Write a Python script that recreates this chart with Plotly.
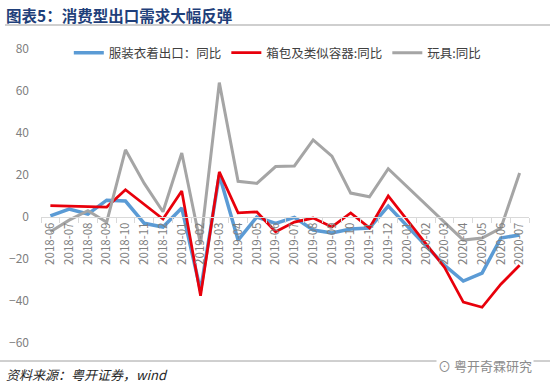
import plotly.graph_objects as go

months = ["2018-06", "2018-07", "2018-08", "2018-09", "2018-10", "2018-11", "2018-12",
          "2019-01", "2019-02", "2019-03", "2019-04", "2019-05", "2019-06", "2019-07",
          "2019-08", "2019-09", "2019-10", "2019-11", "2019-12", "2020-01", "2020-02",
          "2020-03", "2020-04", "2020-05", "2020-06", "2020-07"]

clothing = [0.5, 3.8, 1.4, 8.0, 7.6, -3.0, -4.8, 4.3, -35.0, 20.0, -11.0, 0.0, -3.0, -0.2,
            -6.2, -7.6, -5.7, -5.2, 5.2, None, None, -23.0, -30.5, -26.7, -10.0, -8.6]
bags = [5.4, 5.2, 4.8, 4.7, 13.0, 6.0, -1.0, 12.4, -37.5, 21.5, 2.0, 2.4, -7.0, -2.4,
        -0.5, -4.7, 1.9, -5.2, 10.0, None, None, -24.0, -40.5, -43.0, -32.0, -23.0]
toys = [-7.0, -1.5, 3.0, -2.5, 32.0, 16.0, 2.5, 30.5, -13.0, 64.0, 17.0, 16.0, 24.0, 24.3,
        36.7, 29.0, 11.4, 9.6, 23.0, None, None, -2.5, -11.0, -10.0, -5.3, 21.0]

names = ["服装衣着出口：同比", "箱包及类似容器:同比", "玩具:同比"]
y_ticks = [-60, -40, -20, 0, 20, 40, 60, 80]

fig = go.Figure()
fig.add_trace(go.Scatter(x=months, y=clothing, name=names[0], mode="lines",
                         line=dict(color="#5B9BD5", width=3.5), connectgaps=True))
fig.add_trace(go.Scatter(x=months, y=bags, name=names[1], mode="lines",
                         line=dict(color="#E8000B", width=2.75), connectgaps=True))
fig.add_trace(go.Scatter(x=months, y=toys, name=names[2], mode="lines",
                         line=dict(color="#A5A5A5", width=3), connectgaps=True))

font_cjk = "Noto Sans CJK SC, Microsoft YaHei, sans-serif"
PW, PH = 488, 294

fig.update_layout(
    width=550, height=387,
    margin=dict(l=41, r=21, t=49, b=44, autoexpand=False),
    paper_bgcolor="white", plot_bgcolor="white",
    font=dict(family=font_cjk, color="#595959"),
    showlegend=True,
    legend=dict(orientation="h", x=0.057, y=1 - 4 / PH, xanchor="left", yanchor="middle",
                font=dict(size=12.5, color="#404040", family=font_cjk),
                bgcolor="rgba(0,0,0,0)", itemwidth=30, tracegroupgap=0),
    xaxis=dict(type="category", categoryorder="array", categoryarray=months,
               anchor="free", position=60 / 140,
               showline=True, linecolor="#D9D9D9", linewidth=1,
               ticks="outside", tickson="boundaries", ticklen=5, tickcolor="#D9D9D9",
               tickangle=-90, tickfont=dict(size=11.5, color="#7F7F7F", family=font_cjk),
               showgrid=False, zeroline=False, range=[-0.5, 25.5]),
    yaxis=dict(range=[-60, 80], tickvals=y_ticks, showgrid=False, zeroline=False,
               showline=False, ticks="", ticklabelstandoff=11,
               tickfont=dict(size=12, color="#7F7F7F", family=font_cjk)),
)

# Title and decorations
fig.add_annotation(text="<b>图表5：消费型出口需求大幅反弹</b>", xref="paper", yref="paper",
                   x=-37 / PW, y=1 + 34 / PH, xanchor="left", yanchor="middle",
                   showarrow=False, font=dict(size=15.5, color="#1F3F7A", family=font_cjk))
fig.add_shape(type="line", xref="paper", yref="paper",
              x0=-36 / PW, x1=1 + 21 / PW, y0=1 + 24 / PH, y1=1 + 24 / PH,
              line=dict(color="#A0A0A0", width=1.2))
fig.add_shape(type="line", xref="paper", yref="paper",
              x0=-41 / PW, x1=1 + 21 / PW, y0=-18 / PH, y1=-18 / PH,
              line=dict(color="#A0A0A0", width=1))
fig.add_annotation(text="<i>资料来源：粤开证券，wind</i>", xref="paper", yref="paper",
                   x=-37 / PW, y=-32 / PH, xanchor="left", yanchor="middle",
                   showarrow=False, font=dict(size=13, color="#262626", family=font_cjk))
fig.add_annotation(text="⊙ 粤开奇霖研究", xref="paper", yref="paper",
                   x=1 + 5 / PW, y=-22 / PH, xanchor="right", yanchor="middle",
                   showarrow=False, bgcolor="white",
                   font=dict(size=13, color="#8C8C8C", family=font_cjk))

fig.write_html("out.html", config={"displayModeBar": False},
               post_script="document.body.style.margin='0';document.body.style.overflow='hidden';")
